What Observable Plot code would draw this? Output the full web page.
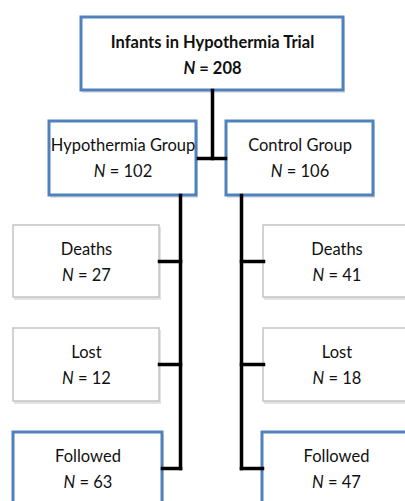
<!DOCTYPE html>
<html>
<head>
<meta charset="utf-8">
<script src="https://cdn.jsdelivr.net/npm/d3@7"></script>
<script src="https://cdn.jsdelivr.net/npm/@observablehq/plot@0.6"></script>
<style>
  html, body { margin: 0; padding: 0; background: #fff; }
  #chart svg { display: block; font-family: Lato, "Open Sans", sans-serif; }
</style>
</head>
<body>
<div id="chart"></div>
<script>
// ---- Data ----
const nodeLabels = ["Infants in Hypothermia Trial", "Hypothermia Group", "Control Group",
                    "Deaths", "Lost", "Followed", "Deaths", "Lost", "Followed"];
const nodeCounts = [208, 102, 106, 27, 12, 63, 41, 18, 47];
const nodeParent = [null, 0, 0, 1, 1, 1, 2, 2, 2];
const nodeKind   = ["main", "main", "main", "outcome", "outcome", "main", "outcome", "outcome", "main"];

// ---- Layout (positions in chart units) ----
const layout = [
  {x1: 81,  x2: 343, y1: 17,  y2: 90},
  {x1: 49,  x2: 196, y1: 121, y2: 195},
  {x1: 226, x2: 373, y1: 121, y2: 195},
  {x1: 13,  x2: 159, y1: 225, y2: 297},
  {x1: 13,  x2: 159, y1: 328, y2: 401},
  {x1: 13,  x2: 162, y1: 432, y2: 515},
  {x1: 263, x2: 410, y1: 225, y2: 297},
  {x1: 263, x2: 410, y1: 328, y2: 401},
  {x1: 262, x2: 410, y1: 432, y2: 515}
];
const trunkX = {1: 180, 2: 241};   // vertical trunks of each group
const splitY = 158;                 // horizontal split under the top box

const nodes = nodeLabels.map((label, i) => ({
  label, n: nodeCounts[i], kind: nodeKind[i], parent: nodeParent[i], ...layout[i],
  cx: (layout[i].x1 + layout[i].x2) / 2,
  ty: layout[i].y1 + (i === 0 ? 30 : 29),
  ny: layout[i].y1 + (i === 0 ? 56 : 55),
  bold: i === 0
}));

// connectors
const links = [];
const rootNode = nodes[0];
links.push({x1: rootNode.cx, y1: rootNode.y2, x2: rootNode.cx, y2: splitY});
links.push({x1: nodes[1].x2 + 2, y1: splitY, x2: nodes[2].x1 - 1, y2: splitY});
for (const g of [1, 2]) {
  const kids = nodes.filter(d => d.parent === g);
  const jy = kids.map(d => d.y1 + 36);
  const x = trunkX[g];
  links.push({x1: x, y1: nodes[g].y2, x2: x, y2: jy[jy.length - 1]});
  kids.forEach((d, i) => {
    const edge = g === 1 ? d.x2 : d.x1;
    links.push({x1: edge, y1: jy[i], x2: x, y2: jy[i]});
  });
}

const blue = "#4f81bd";
const boldNodes = nodes.filter(d => d.bold);
const plainNodes = nodes.filter(d => !d.bold);
const textOpts = {fill: "#111", fontSize: 16.5, lineAnchor: "bottom"};
const chart = Plot.plot({
  width: 405,
  height: 501,
  margin: 0,
  x: {domain: [0, 405], range: [0, 405], axis: null},
  y: {domain: [0, 501], range: [0, 501], axis: null},
  marks: [
    // shadows
    Plot.rect(nodes, {x1: d => d.x1 + 1, x2: d => d.x2 + 2, y1: d => d.y1 + 2, y2: d => d.y2 + 3,
      fill: "#d0d0d0", fillOpacity: 0.6}),
    Plot.rect(nodes, {x1: "x1", x2: "x2", y1: "y1", y2: "y2", fill: "white",
      stroke: d => d.kind === "main" ? blue : "#c4c4c4",
      strokeWidth: d => d.kind === "main" ? 3 : 1.5}),
    Plot.link(links, {x1: "x1", y1: "y1", x2: "x2", y2: "y2", stroke: "black",
      strokeWidth: 3.5, strokeLinecap: "square"}),
    Plot.text(plainNodes, {x: "cx", y: "ty", text: "label", ...textOpts}),
    Plot.text(plainNodes, {x: "cx", y: "ny", text: d => "N = " + d.n, ...textOpts}),
    Plot.text(boldNodes, {x: "cx", y: "ty", text: "label", fontWeight: "bold", ...textOpts}),
    Plot.text(boldNodes, {x: "cx", y: "ny", text: d => "N = " + d.n, fontWeight: "bold", ...textOpts})
  ]
});
document.getElementById("chart").appendChild(chart);

// italicise the "N" of each count label
d3.select(chart).selectAll("text").each(function () {
  const t = d3.select(this);
  const s = t.text();
  if (/^N = /.test(s)) {
    t.text("");
    t.append("tspan").attr("font-style", "italic").text("N");
    t.append("tspan").text(s.slice(1));
  }
});
</script>
</body>
</html>
